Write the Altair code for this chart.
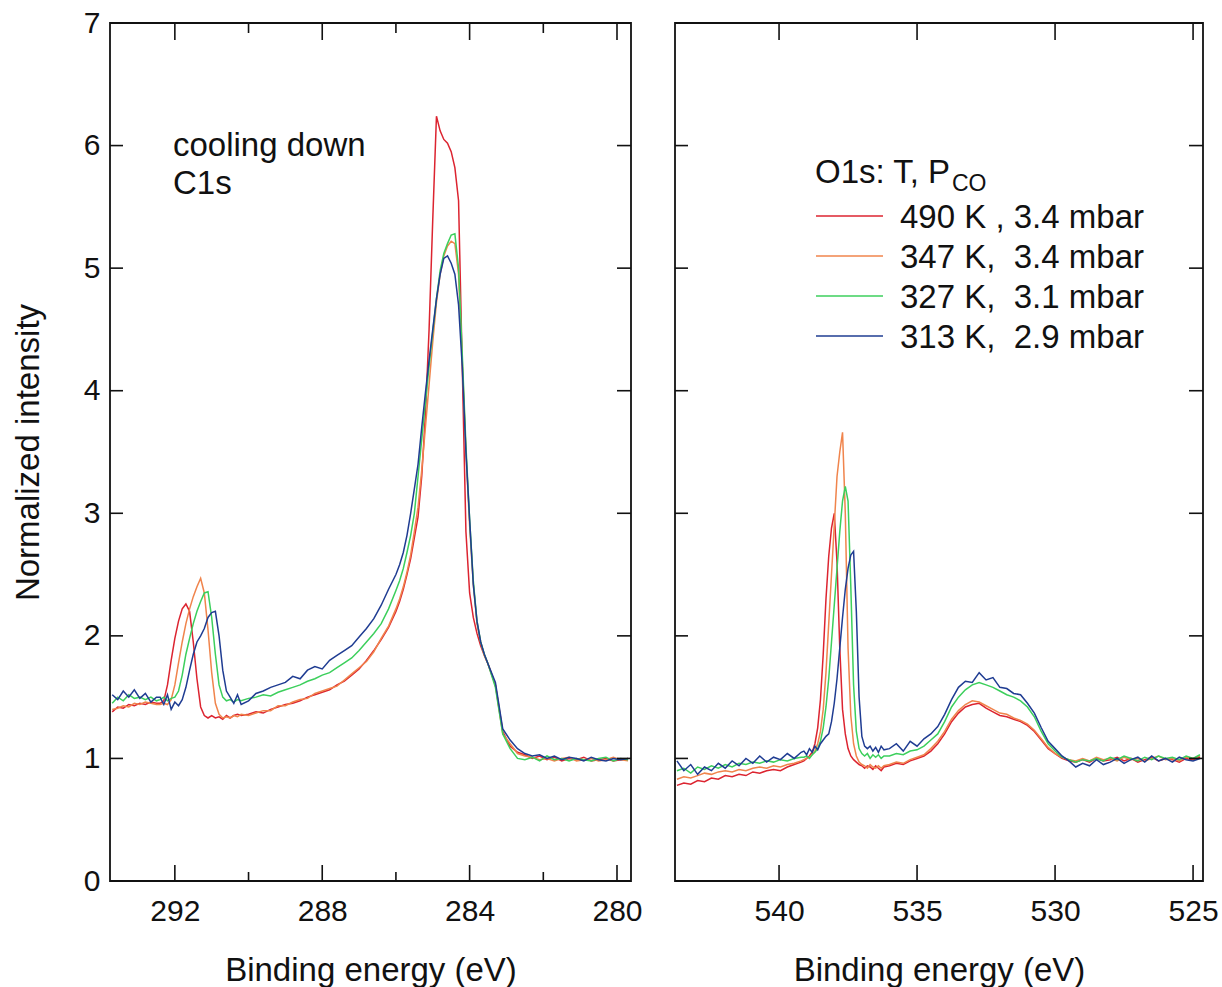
import altair as alt
import pandas as pd

# ---------------- C1s panel (left) ----------------
c1s_energy = [
    293.7, 293.55, 293.4, 293.25, 293.1, 292.95, 292.8, 292.65, 292.5,
    292.4, 292.3, 292.2, 292.1, 292.0, 291.9, 291.8, 291.7, 291.6, 291.5, 291.4, 291.3,
    291.2, 291.1, 291.0, 290.9, 290.8, 290.7, 290.6, 290.5, 290.4, 290.3, 290.2,
    290.0, 289.8, 289.6, 289.4, 289.2, 289.0, 288.8, 288.6, 288.4, 288.2, 288.0,
    287.8, 287.6, 287.4, 287.2, 287.0, 286.8, 286.6, 286.4, 286.2, 286.0,
    285.9, 285.8, 285.7, 285.6, 285.5, 285.4, 285.3, 285.2, 285.1, 285.0, 284.9,
    284.8, 284.7, 284.6, 284.5, 284.4, 284.3, 284.2, 284.1, 284.0, 283.9, 283.8,
    283.7, 283.6, 283.5,
    283.3, 283.1, 282.9, 282.7, 282.5, 282.3, 282.1, 281.9, 281.7, 281.5, 281.3,
    281.1, 280.9, 280.7, 280.5, 280.3, 280.1, 279.9, 279.7,
]
c1s_490K = [
    1.38, 1.42, 1.41, 1.44, 1.43, 1.45, 1.44, 1.46, 1.45,
    1.45, 1.47, 1.6, 1.8, 1.98, 2.12, 2.22, 2.26, 2.2, 1.95, 1.65, 1.42,
    1.35, 1.33, 1.35, 1.33, 1.34, 1.32, 1.35, 1.33, 1.35, 1.36, 1.35,
    1.36, 1.38, 1.37, 1.4, 1.42, 1.44, 1.45, 1.47, 1.5, 1.52, 1.54,
    1.56, 1.6, 1.63, 1.68, 1.73, 1.8, 1.88, 1.97, 2.07, 2.2,
    2.28, 2.38, 2.5, 2.63, 2.8, 2.97, 3.3, 3.8, 4.5, 5.4, 6.24,
    6.12, 6.05, 6.02, 5.95, 5.82, 5.55, 4.2, 2.85, 2.35, 2.15, 2.02,
    1.92, 1.84, 1.77,
    1.6, 1.22, 1.1, 1.05, 1.03, 1.0, 1.02, 0.99, 1.01, 0.98, 1.0,
    0.99, 1.01, 0.98, 0.99, 1.0, 0.98, 0.99, 1.0,
]
c1s_347K = [
    1.4, 1.41, 1.43, 1.42, 1.45, 1.44, 1.46, 1.45, 1.44,
    1.44, 1.45, 1.44, 1.48, 1.6, 1.78, 1.95, 2.1, 2.22, 2.32, 2.4, 2.47,
    2.35, 2.05, 1.7, 1.45, 1.36, 1.33, 1.34, 1.33, 1.35, 1.34, 1.36,
    1.35, 1.37, 1.39, 1.39, 1.43, 1.43, 1.46, 1.48, 1.49, 1.53, 1.55,
    1.57, 1.59, 1.64, 1.69, 1.74, 1.79, 1.87, 1.98, 2.08, 2.22,
    2.3, 2.4, 2.52, 2.66, 2.85, 3.05, 3.35, 3.7, 4.05, 4.4, 4.72,
    4.95, 5.1, 5.18, 5.22, 5.2, 4.95, 4.25, 3.5, 2.9, 2.42, 2.1,
    1.95, 1.84, 1.77,
    1.6, 1.2, 1.12, 1.04, 1.02, 1.01, 0.99, 1.0, 0.98, 1.0, 1.01,
    0.98, 0.99, 1.0, 0.98, 0.99, 1.01, 0.99, 0.98,
]
c1s_327K = [
    1.45, 1.5, 1.47, 1.52, 1.49, 1.5, 1.48, 1.5, 1.47,
    1.48, 1.5, 1.47, 1.49, 1.5, 1.55, 1.68, 1.85, 1.98, 2.1, 2.2, 2.28,
    2.35, 2.36, 2.15, 1.85, 1.6, 1.5, 1.47, 1.48, 1.46, 1.48, 1.47,
    1.49, 1.5, 1.52, 1.51, 1.54, 1.56, 1.58, 1.6, 1.63, 1.65, 1.68,
    1.7, 1.74, 1.78, 1.82, 1.88, 1.95, 2.02, 2.1, 2.22, 2.37,
    2.45, 2.55, 2.68, 2.82, 3.0, 3.3, 3.6, 3.9, 4.2, 4.48, 4.75,
    4.98, 5.12, 5.2, 5.27, 5.28, 5.0, 4.3, 3.55, 2.95, 2.45, 2.12,
    1.95, 1.85, 1.77,
    1.58, 1.2, 1.08, 1.0, 0.99, 1.01, 0.98, 1.02, 0.99, 1.0, 0.98,
    1.0, 0.99, 0.98, 1.0, 1.01, 0.98, 1.0, 0.99,
]
c1s_313K = [
    1.52, 1.48, 1.55, 1.5, 1.56, 1.49, 1.53, 1.46, 1.5,
    1.5, 1.44, 1.52, 1.4, 1.46, 1.43, 1.48, 1.58, 1.72, 1.85, 1.95, 2.0,
    2.06, 2.15, 2.19, 2.2, 2.0, 1.72, 1.55, 1.5, 1.45, 1.52, 1.44,
    1.47, 1.53, 1.55, 1.58, 1.6, 1.62, 1.67, 1.65, 1.72, 1.75, 1.73,
    1.8, 1.84, 1.88, 1.92, 1.99, 2.06, 2.14, 2.25, 2.38, 2.5,
    2.58, 2.68, 2.82, 3.0, 3.2, 3.4, 3.7, 3.98, 4.25, 4.5, 4.75,
    4.95, 5.08, 5.1, 5.04, 4.95, 4.7, 4.2, 3.5, 2.95, 2.42, 2.12,
    1.95, 1.85, 1.77,
    1.62, 1.24, 1.15, 1.08, 1.04, 1.02, 1.03, 1.0, 1.02, 0.99, 1.01,
    1.0, 0.98, 1.01, 0.99, 0.98, 1.0, 0.99, 1.0,
]

# ---------------- O1s panel (right) ----------------
o1s_energy = [
    543.7, 543.45, 543.2, 542.95, 542.7, 542.45, 542.2, 541.95, 541.7, 541.45,
    541.2, 540.95, 540.7, 540.45, 540.2, 539.95, 539.7, 539.45, 539.2,
    539.1, 539.0, 538.9, 538.8, 538.7, 538.6, 538.5, 538.4, 538.3, 538.2,
    538.1, 538.0, 537.9, 537.8, 537.7, 537.6, 537.5, 537.4, 537.3, 537.2,
    537.1, 537.0, 536.9, 536.8, 536.7, 536.6, 536.5, 536.4, 536.3, 536.2,
    536.0, 535.75, 535.5, 535.25, 535.0, 534.75, 534.5, 534.25, 534.0, 533.75,
    533.5, 533.25, 533.0, 532.75, 532.5, 532.25, 532.0, 531.75, 531.5, 531.25,
    531.0, 530.75, 530.5, 530.25, 530.0, 529.75, 529.5, 529.25, 529.0, 528.75,
    528.5, 528.25, 528.0, 527.75, 527.5, 527.25, 527.0, 526.75, 526.5, 526.25,
    526.0, 525.75, 525.5, 525.25, 525.0, 524.75,
]
o1s_490K = [
    0.78, 0.8, 0.79, 0.82, 0.81, 0.84, 0.83, 0.86, 0.85, 0.87,
    0.86, 0.89, 0.88, 0.9, 0.91, 0.9, 0.93, 0.95, 0.97,
    0.98, 1.0, 1.02, 1.05, 1.12, 1.25, 1.48, 1.85, 2.3, 2.65,
    2.88, 3.0, 2.6, 1.9, 1.4, 1.2, 1.08, 1.02, 0.99, 0.97,
    0.95, 0.94, 0.92, 0.94, 0.93, 0.91, 0.94, 0.92, 0.9, 0.93,
    0.94, 0.96, 0.95, 0.98, 1.0, 1.02, 1.06, 1.12, 1.2, 1.3,
    1.37, 1.42, 1.44, 1.45, 1.41, 1.38, 1.35, 1.34, 1.32, 1.3,
    1.27, 1.22, 1.15, 1.08, 1.04, 1.0, 0.98, 0.97, 0.99, 0.97,
    1.0, 0.98, 0.99, 1.01, 0.98, 1.0, 0.97, 0.99, 1.01, 0.98,
    1.0, 0.99, 0.97, 1.0, 0.99, 1.01,
]
o1s_347K = [
    0.83, 0.85, 0.84, 0.86, 0.88, 0.87, 0.89, 0.9, 0.89, 0.91,
    0.9, 0.92, 0.93, 0.92, 0.94, 0.93, 0.95, 0.96, 0.98,
    0.99, 1.0, 1.01, 1.03, 1.06, 1.12, 1.22, 1.4, 1.7, 2.1,
    2.5, 2.9, 3.3, 3.5, 3.66, 3.0, 1.9, 1.35, 1.12, 1.02,
    0.97, 0.95, 0.94, 0.92, 0.95, 0.93, 0.92, 0.94, 0.92, 0.94,
    0.95, 0.97, 0.96, 0.99, 1.01, 1.03, 1.08, 1.14, 1.22, 1.32,
    1.39, 1.44, 1.47, 1.46, 1.43, 1.4, 1.37, 1.36, 1.33, 1.31,
    1.28, 1.23, 1.16, 1.09, 1.04, 1.01, 0.99, 0.98, 1.0, 0.98,
    1.01, 0.99, 1.0, 0.98, 1.01, 0.99, 1.0, 0.98, 1.0, 1.02,
    0.99, 1.0, 0.98, 1.01, 1.0, 1.02,
]
o1s_327K = [
    0.9, 0.92, 0.88, 0.93, 0.91, 0.94, 0.92, 0.95, 0.93, 0.96,
    0.95, 0.97, 0.96, 0.98, 0.97, 0.99, 0.98, 1.0, 1.01,
    1.01, 1.02, 1.0, 1.03, 1.05, 1.08, 1.14, 1.25, 1.42, 1.65,
    1.95, 2.25, 2.55, 2.85, 3.1, 3.22, 3.1, 2.4, 1.6, 1.22,
    1.08, 1.04, 1.02, 1.04, 1.0, 1.03, 1.01, 1.03, 1.0, 1.02,
    1.02, 1.04, 1.03, 1.06, 1.07, 1.1, 1.15, 1.2, 1.3, 1.42,
    1.5, 1.56, 1.6, 1.62, 1.6, 1.58, 1.55, 1.52, 1.5, 1.47,
    1.42, 1.34, 1.22, 1.12, 1.06, 1.01, 0.99, 0.97, 0.99, 0.98,
    1.0, 0.98, 1.01, 0.99, 1.02, 1.0, 0.98, 1.01, 0.99, 1.02,
    1.0, 1.01, 0.99, 1.02, 1.0, 1.03,
]
o1s_313K = [
    0.98, 0.9, 0.95, 0.87, 0.93, 0.9, 0.96, 0.92, 0.98, 0.94,
    1.0, 0.96, 1.02, 0.97, 1.01, 0.99, 1.04, 1.0, 1.05,
    1.06, 1.03, 1.08, 1.05, 1.1, 1.07, 1.12, 1.15, 1.18, 1.2,
    1.3, 1.45, 1.65, 1.9, 2.15, 2.38, 2.55, 2.66, 2.69, 2.2,
    1.5, 1.18, 1.1, 1.08, 1.1, 1.06, 1.09, 1.05, 1.1, 1.07,
    1.08, 1.12, 1.06, 1.14, 1.1, 1.16, 1.2, 1.26, 1.36, 1.48,
    1.58, 1.63, 1.62, 1.7, 1.64, 1.66, 1.58, 1.57, 1.53, 1.52,
    1.45, 1.37, 1.25, 1.14, 1.08, 1.02, 0.98, 0.93, 0.96, 0.94,
    0.99, 0.95, 0.97, 1.0, 0.96, 0.99, 1.01, 0.97, 1.02, 0.98,
    1.0, 0.97, 1.01, 0.99, 0.98, 1.0,
]

series_labels = ["490 K , 3.4 mbar", "347 K,\u00a0 3.4 mbar", "327 K,\u00a0 3.1 mbar", "313 K,\u00a0 2.9 mbar"]
series_colors = ["#dc2430", "#f0844c", "#3ccf5c", "#1f3c92"]

c1s_series = [c1s_490K, c1s_347K, c1s_327K, c1s_313K]
o1s_series = [o1s_490K, o1s_347K, o1s_327K, o1s_313K]

c1s_major = [292, 288, 284, 280]
c1s_minor = [290, 286, 282]
o1s_major = [540, 535, 530, 525]
y_ticks = [0, 1, 2, 3, 4, 5, 6, 7]

FONT = "Liberation Sans"
TXT = "#111111"
H = 858
W_L = 521
W_R = 528


def panel(energy, series, domain, major, minor, width, left_axis):
    xscale = alt.Scale(domain=domain, reverse=True, nice=False, zero=False)
    yscale = alt.Scale(domain=[0, 7], nice=False, zero=False)
    xax = alt.Axis(values=major, format="d", title="Binding energy (eV)",
                   labelPadding=15, titleY=99, titleBaseline="alphabetic",
                   labelFlush=False, labelOverlap=False)
    if left_axis:
        yax = alt.Axis(values=y_ticks, format="d", title="Normalized intensity",
                       labelPadding=10, titleX=-82, titleY=H / 2,
                       titleBaseline="middle", labelFlush=False, labelOverlap=False)
    else:
        yax = None
    layers = []
    for ys, col in zip(series, series_colors):
        assert len(ys) == len(energy)
        df = pd.DataFrame({"E": energy, "I": ys})
        layers.append(
            alt.Chart(df).mark_line(color=col, strokeWidth=1.5, clip=True).encode(
                x=alt.X("E:Q", scale=xscale, axis=xax),
                y=alt.Y("I:Q", scale=yscale, axis=yax),
            )
        )
    # inward ticks on all four sides
    tick_style = dict(color="#111111", strokeWidth=1.6)
    for vals, ln in ((major, 16), (minor, 9)):
        if not vals:
            continue
        d = pd.DataFrame({"E": vals})
        layers.append(alt.Chart(d).mark_rule(**tick_style).encode(
            x=alt.X("E:Q", scale=xscale, axis=xax), y=alt.value(H), y2=alt.value(H - ln)))
        layers.append(alt.Chart(d).mark_rule(**tick_style).encode(
            x=alt.X("E:Q", scale=xscale, axis=xax), y=alt.value(0), y2=alt.value(ln + 1)))
    dy = pd.DataFrame({"I": y_ticks})
    layers.append(alt.Chart(dy).mark_rule(**tick_style).encode(
        y=alt.Y("I:Q", scale=yscale, axis=yax), x=alt.value(0), x2=alt.value(13)))
    layers.append(alt.Chart(dy).mark_rule(**tick_style).encode(
        y=alt.Y("I:Q", scale=yscale, axis=yax), x=alt.value(width), x2=alt.value(width - 14)))
    return layers


def label(text, x, y, size=33):
    d = pd.DataFrame({"t": [text]})
    return alt.Chart(d).mark_text(
        align="left", baseline="alphabetic", fontSize=size, font=FONT, color=TXT).encode(
        text="t:N", x=alt.value(x), y=alt.value(y))


left_layers = panel(c1s_energy, c1s_series, [279.62, 293.76], c1s_major, c1s_minor, W_L, True)
left_layers.append(label("cooling down", 63, 133))
left_layers.append(label("C1s", 63, 171))
left = alt.layer(*left_layers).properties(width=W_L, height=H)

right_layers = panel(o1s_energy, o1s_series, [524.64, 543.77], o1s_major, [], W_R, False)
right_layers.append(label("O1s: T, P", 140, 160))
right_layers.append(label("CO", 277, 168, size=23))
for i, (lab, col) in enumerate(zip(series_labels, series_colors)):
    d = pd.DataFrame({"t": [lab]})
    right_layers.append(alt.Chart(d).mark_rule(color=col, strokeWidth=1.6).encode(
        x=alt.value(141), x2=alt.value(208), y=alt.value(193 + 40 * i)))
    right_layers.append(label(lab, 225, 205 + 40 * i))
right = alt.layer(*right_layers).properties(width=W_R, height=H)

chart = alt.hconcat(left, right, spacing=44, bounds="flush").properties(
    padding={"left": 11, "top": 7, "right": 0, "bottom": 0},
    background="white",
).configure_view(stroke="#111111", strokeWidth=1.8).configure_axis(
    labelFont=FONT, titleFont=FONT, labelFontSize=30, titleFontSize=33,
    labelColor=TXT, titleColor=TXT, titleFontWeight="normal",
    domain=False, ticks=False, tickSize=0, grid=False,
)

chart.save("out.html", embed_options={"renderer": "svg", "actions": False})
